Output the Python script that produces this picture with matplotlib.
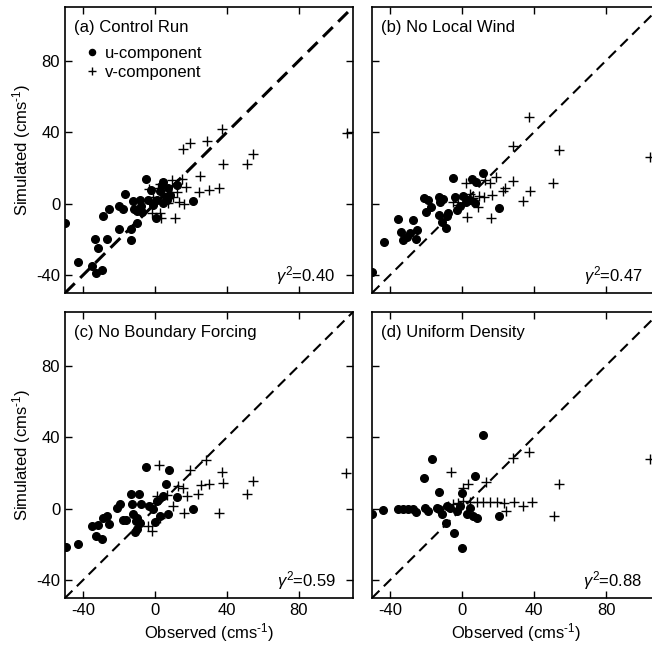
import matplotlib
matplotlib.use("Agg")
import matplotlib.pyplot as plt

plt.rcParams['font.family'] = ['Liberation Sans', 'DejaVu Sans']
plt.rcParams['mathtext.fontset'] = 'custom'
plt.rcParams['mathtext.rm'] = 'Liberation Sans'
plt.rcParams['mathtext.it'] = 'Liberation Sans:italic'
plt.rcParams['axes.unicode_minus'] = False

# (a) Control Run
a_u_obs = [-50, -42.6, -35.2, -32.8, -29.6, -33.3, -31.9, -26.9, -20, -13.5, -13.3, -9.8, -29.1, -25.4,
           -19.8, -18, -16.5, -12.4, -11.7, -9.8, -8.3, -7.8, -7, -5, -3.7, -0.9, 0.6, 1, 2.8, 4.6,
           6.1, 7.4, 8.3, 4.6, 12, 20.9, -2, 3.7, 6.5]
a_u_sim = [-11, -32.7, -35.1, -38.8, -37, -19.9, -24.9, -19.9, -14.3, -20.2, -14.3, -10.6, -6.8, -3.1,
           -1.6, -3.1, 5.4, 1.7, -3.1, -3.9, 2.1, -1.6, -4.6, 13.8, 2.1, -0.7, -8.1, 2.1, 6.8, 12.3,
           3.9, 8.6, 4.9, 0.6, 10.5, 1.5, 7.7, 10.5, 2.1]
a_v_obs = [106.5, 37.4, 28.7, 19.4, 15.7, 54.6, 51.3, 38, 25, 14.8, 17.2, 12, 35.3, 30, 24.4, 12,
           13.5, 16.3, 11.1, 2.8, 3.1, -1.9, -3.1, 2.8, 1.9, 9.3, 6.5, 10.2, 4.6, -0.9, 7.4]
a_v_sim = [39.3, 41.5, 35, 34.1, 30.4, 27.6, 22, 22, 15.7, 13.8, 9.5, 10.8, 8.6, 7.7, 6.7, 6.3,
           1.1, -0.2, -8.1, -5.3, -8.1, -5.3, 8, 11, 8.6, 13.3, 7.7, 3.9, 2.1, 3.9, 0.3]

# (b) No Local Wind
b_u_obs = [-49.8, -43.3, -35.7, -34.1, -32.6, -30.7, -28.9, -27.4, -25.7, -24.8, -20.9, -18.7, -17.2,
           -20.2, -13, -12.2, -10.7, -13, -11.3, -8.9, -8.1, -7.6, -5.2, -3.9, -3, -1.1, 5.4, 7.8,
           11.5, 2.2, 4.4, 7.2, 20.7, 0.7]
b_u_sim = [-38.3, -21.7, -8.7, -16.1, -20.2, -18.4, -16.5, -9, -19.9, -14.7, 3, 2.1, -2, -4.8, 3.5,
           1.1, 2.5, -6.2, -10, -13.7, -7.2, -5.3, 14.6, 3.5, -3.4, -1.6, 13.7, 11.9, 17.4, 1.1, 2.1,
           0.3, -2.6, 4.3]
b_v_obs = [104.4, 37.2, 28.5, 54.1, 50.7, 37.8, 34.1, 28.5, 23.9, 23, 18.9, 15.6, 12.8, 2.2, 4.4,
           9.6, 16.5, 12.2, 9.1, 2.6, 16.1, -4.8, -2, 1.7, 6.3]
b_v_sim = [25.9, 48.6, 32.4, 30, 11.4, 7.3, 1.2, 12.7, 8.6, 7.3, 15.1, 11.4, 13.3, 11.4, 5.4, 4.3,
           4.9, 3.5, -2, -7.6, -8.1, 1.1, -0.7, 2.5, 3]

# (c) No Boundary Forcing
c_u_obs = [-49.4, -43, -35.2, -31.9, -32.8, -29.6, -28.7, -26.9, -25.4, -21.3, -19.4, -17.6, -16.1,
           -13.5, -13, -12.4, -10.6, -9.8, -8.9, -8.3, -7.8, -11.1, -9.8, -5, -3.1, -1.3, 0, 2.8,
           6.1, 7.9, 4.6, 7.4, 12, 20.9, 0.9]
c_u_sim = [-21.3, -19.6, -9.7, -9.1, -15.3, -16.8, -5, -4.1, -8.4, 0.6, 2.4, -6.5, -6.5, 8.4, 2.4,
           -3.2, -6.9, -5, 8.4, -7.8, 2.8, -13.1, -11.2, 23.5, 1.5, -0.4, -7.3, -4.1, 13.6, 21.6,
           7.1, -2.8, 6.5, 0, 4.3]
c_v_obs = [106.1, 2.2, 28.1, 19.4, 37.4, 37.6, 54.6, 51.3, 35.3, 29.8, 25.4, 23.9, 17.9, 15.5, 12.8,
           16.3, 10.2, -3.7, -1.9, 2.8, 0.9, 6.5, 0]
c_v_sim = [20.1, 24.3, 27.4, 21.6, 20.7, 14.6, 15.5, 8, -2.6, 13.6, 13.2, 8.4, 7.1, 11.8, 12.7,
           -2.2, 1.5, -9.7, -12.5, -5.4, 7.1, 7.6, 3.4]

# (d) Uniform Density
d_u_obs = [-49.8, -43.7, -35.7, -32.6, -29.8, -27, -25.6, -20.6, -18.7, -16.9, -21.1, -12.6, -14.1,
           -11.3, -8.9, -4.4, 0.2, -0.2, 7.2, 11.5, -8.5, -6.7, -3, -1.1, 2.6, 4.4, 6.3, 8.1, 20.7,
           -12.8]
d_u_sim = [-2.8, -0.7, -0.4, 0, -0.4, -0.4, -1.7, 0.6, -1.3, 27.6, 17.4, 9.3, 0.6, -3.2, -7.8, -13.4,
           -21.8, 9, 18.3, 41.2, 1.5, 0.2, -1.3, 1.5, -2.8, 0.2, -4.1, -5, -4.1, -0.4]
d_v_obs = [104.4, 37.2, 28.5, 54.1, 51.1, -6.3, 3.5, 13.3, 0.4, 38.8, 34.1, 28.9, 23.3, 24.4, 19.3,
           15.6, 11.9, 8.1, 4.4, 0.7, -2, -4.8, -7.6]
d_v_sim = [28, 31.9, 28.5, 14, -4.1, 20.7, 13.6, 15.1, 11.8, 3.7, 1.5, 3.7, 3, -1.3, 3.9, 3.7, 3.9,
           3.9, 3.7, 4.3, 3, 2.4, 1.5]

titles = ["(a) Control Run", "(b) No Local Wind", "(c) No Boundary Forcing", "(d) Uniform Density"]
r2_labels = ["0.40", "0.47", "0.59", "0.88"]
ticks = [-40, 0, 40, 80]

panels = [(a_u_obs, a_u_sim, a_v_obs, a_v_sim),
          (b_u_obs, b_u_sim, b_v_obs, b_v_sim),
          (c_u_obs, c_u_sim, c_v_obs, c_v_sim),
          (d_u_obs, d_u_sim, d_v_obs, d_v_sim)]

# superscript with a plain hyphen, as in the original
unit = '(cms$^{\N{HYPHEN}1}$)'

fig = plt.figure(figsize=(6.52, 6.48), dpi=100)
w, h = 288 / 652, 286 / 648
positions = [(65 / 652, 1 - 293 / 648), (372 / 652, 1 - 293 / 648),
             (65 / 652, 1 - 598 / 648), (372 / 652, 1 - 598 / 648)]

for i, (uo, us, vo, vs) in enumerate(panels):
    ax = fig.add_axes([positions[i][0], positions[i][1], w, h])
    lw = 2.2 if i == 0 else 1.5
    ax.plot([-50, 110], [-50, 110], color='black', ls=(0, (4.5, 2.5)) if i == 0 else (0, (5, 3)), lw=lw)
    ax.plot(uo, us, 'o', color='black', ms=5.5, label='u-component')
    ax.plot(vo, vs, '+', color='black', ms=6.5, mew=1.0, label='v-component')
    ax.set_xlim(-50, 110)
    ax.set_ylim(-50, 110)
    ax.set_xticks(ticks)
    ax.set_yticks(ticks)
    ax.tick_params(direction='in', top=True, right=True, length=5, width=1, labelsize=12)
    for s in ax.spines.values():
        s.set_linewidth(1.2)
    if i % 2 == 1:
        ax.set_yticklabels([])
    else:
        ax.set_ylabel('Simulated ' + unit, fontsize=12, labelpad=2)
    if i < 2:
        ax.set_xticklabels([])
    else:
        ax.set_xlabel('Observed ' + unit, fontsize=12, labelpad=2)
    ax.text(0.03, 0.955, titles[i], transform=ax.transAxes, fontsize=12, ha='left', va='top')
    ax.text(0.94, 0.06, r'$\gamma^2$=' + r2_labels[i], transform=ax.transAxes, fontsize=12,
            ha='right', va='center')
    if i == 0:
        ax.legend(loc='upper left', bbox_to_anchor=(0.07, 0.865), frameon=False, fontsize=12,
                  handlelength=0.8, handletextpad=0.4, labelspacing=0.25, borderpad=0, borderaxespad=0,
                  markerscale=0.8)

fig.savefig('out.png', dpi=100)
